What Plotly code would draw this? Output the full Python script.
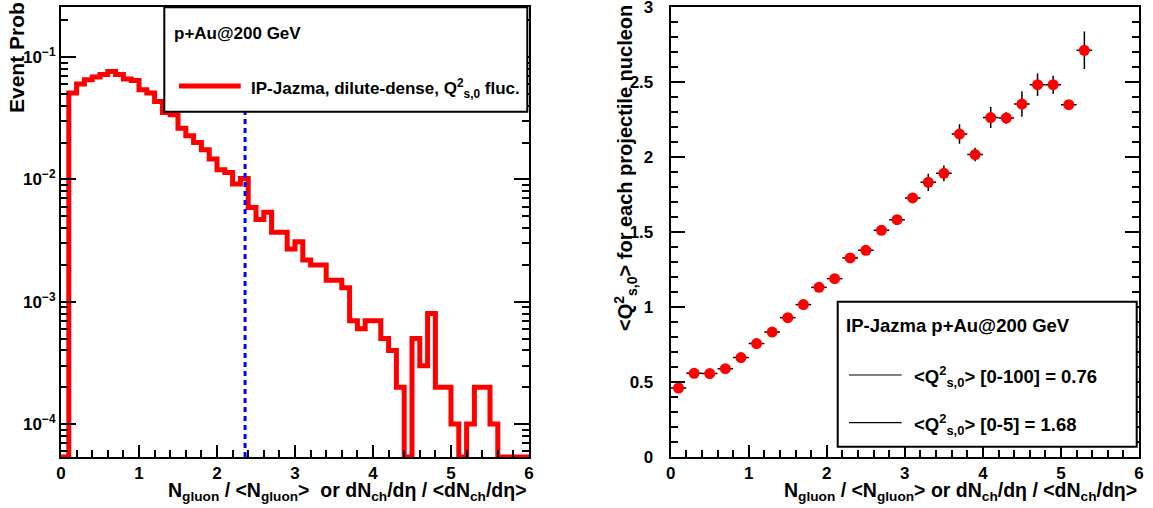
import numpy as np
import plotly.graph_objects as go

W, H = 1153, 508

# ---------------- data ----------------
# left panel: event probability histogram, bins of width 0.1 from 0 to 6
bin_width = 0.1
event_prob = [
    0.0, 0.0509, 0.0604, 0.0655, 0.0689, 0.0724, 0.0765, 0.0724, 0.0664, 0.0646,
    0.0542, 0.0509, 0.0435, 0.0353, 0.0339, 0.0263, 0.0228, 0.0201, 0.0175, 0.0147,
    0.0120, 0.0114, 0.0092, 0.0102, 0.0059, 0.0047, 0.0054, 0.0037, 0.0037, 0.0027,
    0.0031, 0.0022, 0.0020, 0.0020, 0.0015, 0.0015, 0.0013, 0.0007, 0.0006, 0.0007,
    0.0007, 0.0005, 0.0004, 0.0002, 0.0, 0.0005, 0.0003, 0.0008, 0.0002, 0.0002,
    0.0001, 0.0, 0.0001, 0.0002, 0.0002, 0.0001, 0.0, 0.0, 0.0, 0.0,
]
cut_value = 2.36  # blue dashed line (0-5% centrality)

# right panel: <Q^2_s,0> per projectile nucleon vs multiplicity
q2_x = [0.1, 0.3, 0.5, 0.7, 0.9, 1.1, 1.3, 1.5, 1.7, 1.9, 2.1, 2.3, 2.5, 2.7,
        2.9, 3.1, 3.3, 3.5, 3.7, 3.9, 4.1, 4.3, 4.5, 4.7, 4.9, 5.1, 5.3]
q2_y = [0.460, 0.558, 0.556, 0.589, 0.663, 0.756, 0.833, 0.929, 1.016, 1.131,
        1.189, 1.327, 1.378, 1.511, 1.582, 1.727, 1.831, 1.891, 2.153, 2.016,
        2.263, 2.260, 2.353, 2.482, 2.482, 2.349, 2.711]
q2_err = [0.004, 0.004, 0.004, 0.004, 0.005, 0.006, 0.007, 0.008, 0.009, 0.011,
          0.013, 0.015, 0.018, 0.020, 0.025, 0.030, 0.058, 0.053, 0.065, 0.045,
          0.070, 0.038, 0.085, 0.075, 0.060, 0.020, 0.125]
q2_xerr = [0.1] * len(q2_x)

# ---------------- layout helpers ----------------
def px(x):
    return x / W

def py(y):
    return 1 - y / H

FONT = "Liberation Sans, Arial, Helvetica, sans-serif"
TICKFONT = dict(family=FONT, size=17, color="black", weight="bold")

y_log_range = [-4.270, -0.589]

# histogram step line (zero bins are drawn at the axis minimum like ROOT)
ymin_val = 10 ** y_log_range[0]
edges = np.round(np.arange(len(event_prob) + 1) * bin_width, 3)
step_y = [max(v, ymin_val) for v in event_prob] + [max(event_prob[-1], ymin_val)]

fig = go.Figure()
fig.add_trace(go.Scatter(
    x=edges, y=step_y, mode="lines", line=dict(color="red", width=5, shape="hv"),
    xaxis="x", yaxis="y", showlegend=False, hoverinfo="skip"))

fig.add_trace(go.Scatter(
    x=q2_x, y=q2_y, mode="markers",
    marker=dict(color="red", size=11, symbol="circle", line=dict(width=0)),
    error_y=dict(type="data", array=q2_err, color="black", thickness=1.5, width=0),
    error_x=dict(type="data", array=q2_xerr, color="black", thickness=1.5, width=0),
    xaxis="x2", yaxis="y2", showlegend=False))

dom_y = [py(457), py(7.0)]

minor_lin = dict(ticks="inside", ticklen=7, tickwidth=2, tickcolor="black", showgrid=False)

log_minor_vals = [m * 10.0 ** e for e in range(-5, 0) for m in range(2, 10)]

common_x = dict(range=[0, 6], dtick=1, tick0=0, ticks="inside", ticklen=12, tickwidth=2,
                tickcolor="black", showline=True, linewidth=2, linecolor="black",
                mirror=True, showgrid=False, zeroline=False, tickfont=TICKFONT,
                automargin=False, ticklabeloverflow="allow",
                minor=dict(dtick=0.2, **minor_lin))

fig.update_layout(
    width=W, height=H, margin=dict(l=0, r=0, t=0, b=0, pad=0, autoexpand=False),
    paper_bgcolor="white", plot_bgcolor="white", showlegend=False,
    xaxis=dict(domain=[px(61), px(529)], anchor="y", **common_x),
    yaxis=dict(domain=dom_y, anchor="x", type="log", range=y_log_range,
               tickmode="array", tickvals=[1e-4, 1e-3, 1e-2, 1e-1],
               ticktext=["10<sup>\u22124</sup>", "10<sup>\u22123</sup>",
                         "10<sup>\u22122</sup>", "10<sup>\u22121</sup>"],
               ticks="inside", ticklen=15, tickwidth=2, tickcolor="black",
               showline=True, linewidth=2, linecolor="black", mirror="ticks",
               showgrid=False, zeroline=False, tickfont=TICKFONT,
               automargin=False, ticklabeloverflow="allow",
               minor=dict(tickmode="array", tickvals=log_minor_vals, **minor_lin)),
    xaxis2=dict(domain=[px(670.7), px(1139)], anchor="y2", **common_x),
    yaxis2=dict(domain=dom_y, anchor="x2", range=[0, 3], dtick=0.5, tick0=0,
                ticks="inside", ticklen=14, tickwidth=2, tickcolor="black",
                showline=True, linewidth=2, linecolor="black", mirror="ticks",
                showgrid=False, zeroline=False, tickfont=TICKFONT,
                ticklabelstandoff=12, automargin=False, ticklabeloverflow="allow",
                minor=dict(dtick=0.1, **minor_lin)),
)

shapes = []
# blue dashed cut line
shapes.append(dict(type="line", xref="x", yref="y domain", x0=cut_value, x1=cut_value,
                   y0=0, y1=1, line=dict(color="blue", width=3, dash="5px,4px"),
                   layer="above"))
# left legend box
shapes.append(dict(type="rect", xref="paper", yref="paper", x0=px(164.3), x1=px(527.3),
                   y0=py(111.7), y1=py(7.3), fillcolor="white",
                   line=dict(color="black", width=2), layer="above"))
shapes.append(dict(type="line", xref="paper", yref="paper", x0=px(179), x1=px(240.7),
                   y0=py(86), y1=py(86), line=dict(color="red", width=5), layer="above"))
# right legend box
shapes.append(dict(type="rect", xref="paper", yref="paper", x0=px(837.7), x1=px(1136.7),
                   y0=py(446.7), y1=py(301.7), fillcolor="white",
                   line=dict(color="black", width=2), layer="above"))
for yy in (375, 422.7):
    shapes.append(dict(type="line", xref="paper", yref="paper", x0=px(849), x1=px(901.7),
                       y0=py(yy), y1=py(yy), line=dict(color="black", width=1.2),
                       layer="above"))
fig.update_layout(shapes=shapes)

XTITLE = dict(family=FONT, size=19.5, color="black", weight="bold")
YTITLE = dict(family=FONT, size=21, color="black", weight="bold")
YTITLE2 = dict(family=FONT, size=20, color="black", weight="bold")
LEG = dict(family=FONT, size=17, color="black", weight="bold")
LEG2 = dict(family=FONT, size=18.5, color="black", weight="bold")

ann = []
xt = ("N<sub>gluon</sub> / &lt;N<sub>gluon</sub>&gt;{sp}or dN<sub>ch</sub>/d\u03b7 / "
      "&lt;dN<sub>ch</sub>/d\u03b7&gt;")
ann.append(dict(text=xt.format(sp="  "), x=px(529), y=py(477), xanchor="right",
                yanchor="top", font=XTITLE))
ann.append(dict(text=xt.format(sp=" "), x=px(1139), y=py(477), xanchor="right",
                yanchor="top", font=XTITLE))
ann.append(dict(text="Event Prob", x=px(16), y=py(58), xanchor="center", yanchor="middle",
                textangle=-90, font=YTITLE))
ann.append(dict(text="&lt;Q<sup>2</sup><sub>s,0</sub>&gt; for each projectile nucleon",
                x=px(625), y=py(168), xanchor="center", yanchor="middle", textangle=-90,
                font=YTITLE2))
# legend texts
ann.append(dict(text="p+Au@200 GeV", x=px(172), y=py(33), xanchor="left",
                yanchor="middle", font=LEG))
ann.append(dict(text="IP-Jazma, dilute-dense, Q<sup>2</sup><sub>s,0</sub> fluc.",
                x=px(249), y=py(88), xanchor="left", yanchor="middle", font=LEG))
ann.append(dict(text="IP-Jazma p+Au@200 GeV", x=px(844), y=py(325), xanchor="left",
                yanchor="middle", font=LEG2))
ann.append(dict(text="&lt;Q<sup>2</sup><sub>s,0</sub>&gt; [0-100] = 0.76", x=px(912),
                y=py(376), xanchor="left", yanchor="middle", font=LEG2))
ann.append(dict(text="&lt;Q<sup>2</sup><sub>s,0</sub>&gt; [0-5] = 1.68", x=px(912),
                y=py(424), xanchor="left", yanchor="middle", font=LEG2))
for a in ann:
    a.update(xref="paper", yref="paper", showarrow=False)
fig.update_layout(annotations=ann)

fig.write_html("out.html")
